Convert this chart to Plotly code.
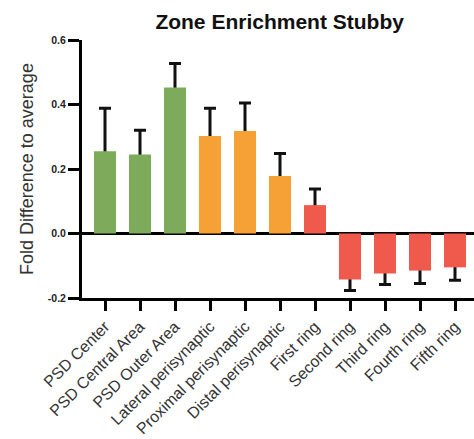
import plotly.graph_objects as go

categories = ["PSD Center", "PSD Central Area", "PSD Outer Area", "Lateral perisynaptic",
              "Proximal perisynaptic", "Distal perisynaptic", "First ring", "Second ring",
              "Third ring", "Fourth ring", "Fifth ring"]
values = [0.255, 0.245, 0.453, 0.302, 0.318, 0.178, 0.088, -0.143, -0.124, -0.115, -0.105]
errors = [0.133, 0.075, 0.074, 0.086, 0.087, 0.07, 0.05, 0.034, 0.034, 0.04, 0.04]
bar_colors = ["#7dab5b", "#7dab5b", "#7dab5b", "#f5a135", "#f5a135", "#f5a135",
              "#ef5a4c", "#ef5a4c", "#ef5a4c", "#ef5a4c", "#ef5a4c"]

x = list(range(len(categories)))

fig = go.Figure()
# error bars (symmetric; lower half hidden behind the bars drawn on top)
fig.add_trace(go.Bar(
    x=x, y=values, width=0.63,
    marker=dict(color="rgba(0,0,0,0)", line=dict(width=0)),
    error_y=dict(type="data", array=errors, visible=True, color="#111111",
                 thickness=3, width=6),
    hoverinfo="skip", showlegend=False,
))
fig.add_trace(go.Bar(
    x=x, y=values, width=0.63,
    marker=dict(color=bar_colors, line=dict(width=0)),
    showlegend=False,
))

fig.update_layout(
    barmode="overlay",
    width=474, height=439,
    margin=dict(l=82, r=0, t=40, b=141),
    plot_bgcolor="white", paper_bgcolor="white",
    font=dict(family="Liberation Sans, Arial, sans-serif", color="#222222"),
    title=dict(text="<b>Zone Enrichment Stubby</b>", x=0.59, xanchor="center",
               y=0.95, yanchor="middle",
               font=dict(size=21, color="#111111")),
)
fig.update_xaxes(
    range=[-0.657, 10.543], tickmode="array", tickvals=x, ticktext=categories,
    tickangle=-45, tickfont=dict(size=16, color="#333333"),
    showline=True, linecolor="black", linewidth=3,
    ticks="outside", ticklen=10, tickwidth=3, tickcolor="black",
    showgrid=False, zeroline=False,
)
fig.update_yaxes(
    range=[-0.2, 0.6], tickvals=[-0.2, 0.0, 0.2, 0.4, 0.6],
    ticktext=["<b>-0.2</b>", "<b>0.0</b>", "<b>0.2</b>", "<b>0.4</b>", "<b>0.6</b>"],
    tickfont=dict(size=10.5, color="#222222"),
    showline=True, linecolor="black", linewidth=3,
    ticks="outside", ticklen=11, tickwidth=3, tickcolor="black",
    showgrid=False, zeroline=True, zerolinecolor="black", zerolinewidth=3,
    title=dict(text="Fold Difference to average", font=dict(size=18, color="#333333"),
               standoff=10),
)

fig.write_html("out.html")
